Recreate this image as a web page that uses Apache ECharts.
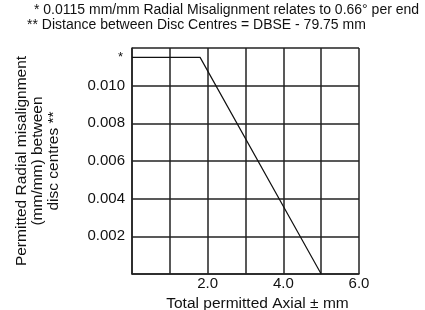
<!DOCTYPE html>
<html>
<head>
<meta charset="utf-8">
<script src="https://cdn.jsdelivr.net/npm/echarts@6/dist/echarts.min.js"></script>
<style>
  html, body { margin: 0; padding: 0; background: #fff; }
  #chart { width: 425px; height: 310px; }
</style>
</head>
<body>
<div id="chart"></div>
<script>
// axial displacement (mm) vs permitted radial misalignment (mm/mm)
const axialValues = [0, 1.8, 5.0];
const radialValues = [0.0115, 0.0115, 0];
const xTickLabels = ["2.0", "4.0", "6.0"];
const yTickLabels = ["0.002", "0.004", "0.006", "0.008", "0.010"];

const chart = echarts.init(document.getElementById("chart"));
const font = "Liberation Sans, Arial, sans-serif";

chart.setOption({
  animation: false,
  backgroundColor: "#fff",
  graphic: [
    {
      type: "text", left: 34, top: 3,
      style: { text: "* 0.0115 mm/mm Radial Misalignment relates to 0.66° per end", font: "14px " + font, fill: "#111" }
    },
    {
      type: "text", left: 27, top: 18,
      style: { text: "** Distance between Disc Centres = DBSE - 79.75 mm", font: "14px " + font, fill: "#111" }
    }
  ],
  grid: { left: 132, top: 48, right: 66, bottom: 36, outerBoundsMode: "none", containLabel: false },
  xAxis: {
    type: "value", min: 0, max: 6, interval: 1,
    name: "Total permitted Axial ± mm",
    nameLocation: "middle", nameGap: 16,
    nameTextStyle: { fontFamily: font, fontSize: 15.5, color: "#111", padding: [0, 0, 0, 24] },
    axisLine: { show: true, lineStyle: { color: "#222", width: 1.5 } },
    axisTick: { show: false },
    splitLine: { show: true, lineStyle: { color: "#222", width: 1.5 } },
    axisLabel: {
      fontFamily: font, fontSize: 15, color: "#111", margin: 2,
      formatter: v => xTickLabels.indexOf(v.toFixed(1)) >= 0 ? v.toFixed(1) : ""
    }
  },
  yAxis: {
    type: "value", min: 0, max: 0.012, interval: 0.002,
    name: "Permitted Radial misalignment\n(mm/mm) between\ndisc centres **",
    nameLocation: "middle", nameGap: 70, nameRotate: 90,
    nameTextStyle: { fontFamily: font, fontSize: 15.5, color: "#111", lineHeight: 16, align: "center", padding: [0, 0, 0, 0] },
    axisLine: { show: true, lineStyle: { color: "#222", width: 1.5 } },
    axisTick: { show: false },
    splitLine: { show: true, lineStyle: { color: "#222", width: 1.5 } },
    axisLabel: {
      fontFamily: font, fontSize: 15, color: "#111", margin: 7,
      formatter: v => yTickLabels.indexOf(v.toFixed(3)) >= 0 ? v.toFixed(3) : ""
    }
  },
  series: [{
    type: "line",
    data: axialValues.map((x, i) => [x, radialValues[i]]),
    symbol: "none",
    lineStyle: { color: "#111", width: 1.2 },
    label: { show: false },
    markPoint: {
      symbol: "circle", symbolSize: 0,
      data: [{ coord: [axialValues[0], radialValues[0]] }],
      label: { show: true, formatter: "*", position: "left", distance: 9, fontFamily: font, fontSize: 13, color: "#111" }
    }
  }]
});
</script>
</body>
</html>
